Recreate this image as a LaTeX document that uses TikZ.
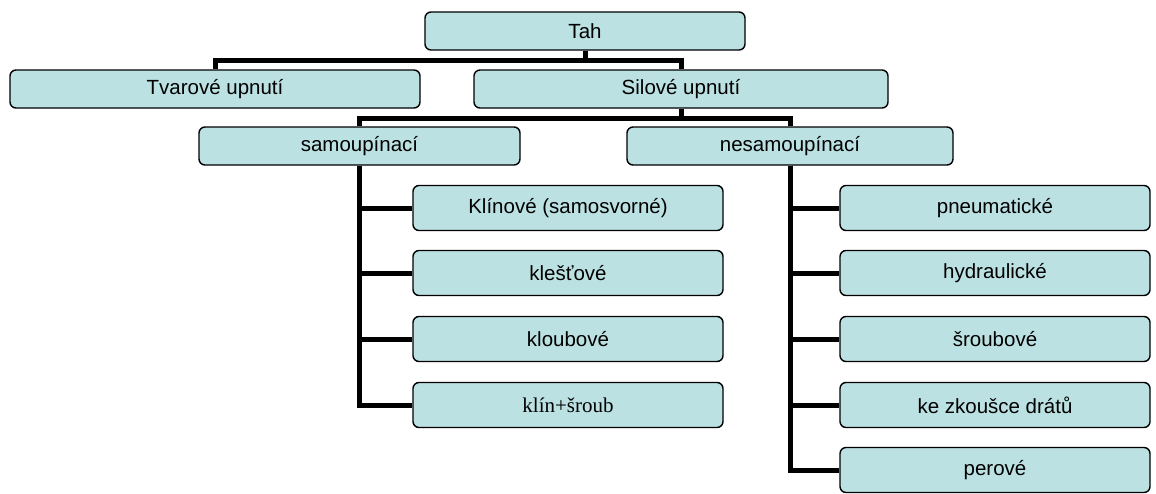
\documentclass[tikz,border=0pt]{standalone}
\usepackage{fontspec}
\setmainfont{Liberation Sans}
\newfontfamily\timesf{Liberation Serif}
\usetikzlibrary{backgrounds}
\definecolor{boxfill}{RGB}{188,225,227}
\tikzset{
  x=1pt, y=-1pt,
  box/.style={draw=black, line width=1.4pt, fill=boxfill, rounded corners=6pt,
    minimum height=38pt, inner sep=0pt, font=\fontsize{20.5}{24}\selectfont},
  leaf/.style={box, minimum width=310pt, minimum height=45pt},
  conn/.style={draw=black, line width=5pt, line join=miter}
}
\begin{document}
\begin{tikzpicture}
\useasboundingbox (0,0) rectangle (1156,493);
\node[box, minimum width=320pt] (tah) at (585,31) {Tah};
\node[box, minimum width=410pt] (tvar) at (215,89) {Tvarové upnutí};
\node[box, minimum width=414pt] (sil) at (681,89) {Silové upnutí};
\node[box, minimum width=321pt] (samo) at (359.5,146) {samoupínací};
\node[box, minimum width=326pt] (nesamo) at (790,146) {nesamoupínací};
\node[leaf] (l1) at (568,208) {Klínové (samosvorné)};
\node[leaf] (l2) at (568,273) {klešťové};
\node[leaf] (l3) at (568,339) {kloubové};
\node[leaf, font=\timesf\fontsize{21}{24}\selectfont] (l4) at (568,405) {klín+šroub};
\node[leaf] (r1) at (995,208) {pneumatické};
\node[leaf] (r2) at (995,273) {hydraulické};
\node[leaf] (r3) at (995,339) {šroubové};
\node[leaf] (r4) at (995,405) {ke zkoušce drátů};
\node[leaf] (r5) at (995,470) {perové};
\begin{scope}[on background layer]
\draw[conn] (tah.south) -- ++(0,10) -| (tvar.north);
\draw[conn] (tah.south) -- ++(0,10) -| (sil.north);
\draw[conn] (sil.south) -- ++(0,10) -| (samo.north);
\draw[conn] (sil.south) -- ++(0,10) -| (nesamo.north);
\draw[conn] (samo.south) |- (l1.west);
\draw[conn] (samo.south) |- (l2.west);
\draw[conn] (samo.south) |- (l3.west);
\draw[conn] (samo.south) |- (l4.west);
\draw[conn] (nesamo.south) |- (r1.west);
\draw[conn] (nesamo.south) |- (r2.west);
\draw[conn] (nesamo.south) |- (r3.west);
\draw[conn] (nesamo.south) |- (r4.west);
\draw[conn] (nesamo.south) |- (r5.west);
\end{scope}
\end{tikzpicture}
\end{document}
